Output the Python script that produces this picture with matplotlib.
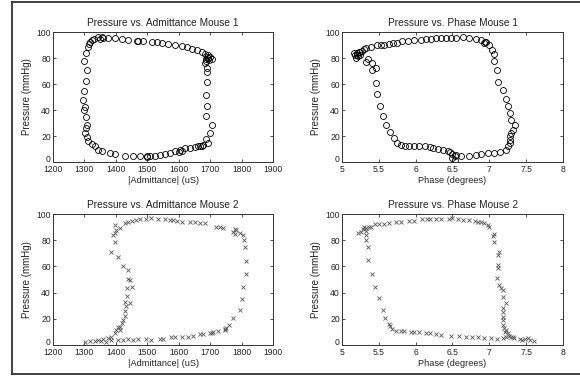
import matplotlib
matplotlib.use('Agg')
import matplotlib.pyplot as plt
from matplotlib.lines import Line2D
from matplotlib.transforms import ScaledTranslation

plt.rcParams['font.family'] = ['Liberation Sans', 'DejaVu Sans']

# Mouse 1: |Admittance| (uS) vs pressure (mmHg)
adm1_x = [1300, 1304, 1312, 1318, 1323, 1331, 1344, 1355, 1376, 1397, 1418, 1440,
          1466, 1487, 1514, 1546, 1567, 1588, 1609, 1625, 1641, 1657, 1673, 1684,
          1694, 1699, 1705, 1697, 1690, 1688, 1684, 1689, 1691, 1689, 1686, 1689,
          1687, 1699, 1707, 1694, 1686, 1678, 1668, 1652, 1636, 1620, 1604, 1588,
          1572, 1556, 1540, 1524, 1509, 1498, 1500, 1477, 1455, 1429, 1397, 1381,
          1355, 1344, 1334, 1323, 1312, 1307, 1302, 1305, 1309, 1305, 1299, 1302,
          1297, 1299, 1304, 1307, 1316, 1350, 1360, 1470, 1530, 1600, 1610, 1662,
          1675, 1688, 1692]
adm1_y = [77.6, 83.7, 88.8, 92.0, 93.5, 94.9, 95.9, 96.2, 95.4, 95.2, 94.4, 93.6,
          93.4, 92.9, 92.3, 91.8, 91.0, 89.8, 89.3, 88.5, 87.2, 86.0, 84.7, 83.4,
          82.0, 80.4, 79.6, 78.8, 81.0, 77.5, 75.8, 72.0, 69.4, 61.7, 51.5, 43.1,
          35.5, 22.2, 28.6, 14.5, 17.6, 12.8, 12.0, 11.5, 10.7, 10.7, 9.4, 8.2,
          6.9, 6.4, 5.6, 4.8, 4.3, 3.8, 5.0, 4.3, 4.3, 4.8, 6.4, 6.9,
          8.2, 9.4, 12.0, 14.0, 15.8, 19.1, 22.2, 26.0, 28.6, 35.0, 40.0, 42.6,
          47.7, 55.0, 62.0, 70.7, 90.5, 95.0, 95.5, 93.0, 92.0, 7.5, 8.5, 12.0,
          12.5, 79.0, 80.0]

# Mouse 1: phase (degrees) vs pressure (mmHg)
ph1_x = [5.16, 5.18, 5.19, 5.21, 5.23, 5.25, 5.27, 5.30, 5.35, 5.32, 5.41, 5.41,
         5.46, 5.46, 5.47, 5.51, 5.56, 5.60, 5.65, 5.71, 5.75, 5.80, 5.85, 5.91,
         5.98, 6.05, 6.12, 6.19, 6.23, 6.30, 6.37, 6.44, 6.47, 6.50, 6.53, 6.50,
         6.54, 6.55, 6.62, 6.72, 6.82, 6.89, 6.98, 7.07, 7.14, 7.23, 7.25, 7.28,
         7.28, 7.28, 7.30, 7.32, 7.35, 7.30, 7.28, 7.25, 7.23, 7.19, 7.12, 7.10,
         7.06, 7.06, 7.03, 7.00, 6.94, 6.89, 6.82, 6.73, 6.64, 6.55, 6.48, 6.41,
         6.35, 6.28, 6.21, 6.14, 6.07, 5.98, 5.89, 5.82, 5.75, 5.69, 5.64, 5.57,
         5.53, 5.47, 5.39, 5.33, 5.22, 5.20, 5.24, 6.95, 6.93]
ph1_y = [84.0, 82.0, 80.0, 83.5, 85.0, 82.6, 85.5, 87.2, 79.6, 77.0, 75.8, 70.7,
         72.0, 61.0, 52.3, 43.1, 35.5, 28.6, 22.7, 18.4, 15.0, 13.3, 12.5, 12.5,
         12.5, 12.0, 12.0, 11.5, 10.7, 10.0, 9.4, 8.2, 7.4, 6.4, 4.3, 3.1,
         1.8, 5.6, 4.3, 4.8, 5.6, 6.4, 6.9, 6.9, 7.6, 9.4, 12.0, 14.5,
         17.0, 20.0, 22.0, 25.0, 28.5, 32.0, 37.5, 43.0, 48.5, 55.4, 61.7, 70.7,
         77.6, 83.4, 86.5, 89.8, 92.3, 93.6, 94.9, 95.7, 96.2, 95.7, 95.7, 95.7,
         95.4, 95.4, 94.9, 94.9, 94.1, 93.6, 92.9, 92.9, 91.8, 91.8, 91.0, 90.3,
         89.8, 89.8, 88.5, 88.0, 81.5, 82.5, 84.5, 92.0, 91.5]

# Mouse 2: |Admittance| (uS) vs pressure (mmHg)
adm2_x = [1301, 1317, 1333, 1343, 1354, 1370, 1386, 1407, 1423, 1439, 1455, 1471,
          1497, 1513, 1540, 1550, 1577, 1588, 1609, 1630, 1646, 1667, 1678, 1699,
          1709, 1725, 1746, 1752, 1760, 1773, 1794, 1800, 1803, 1813, 1813, 1810,
          1808, 1805, 1794, 1783, 1778, 1773, 1742, 1732, 1720, 1684, 1667, 1651,
          1635, 1609, 1593, 1582, 1571, 1555, 1534, 1513, 1497, 1476, 1465, 1450,
          1439, 1428, 1412, 1401, 1396, 1391, 1396, 1396, 1386, 1407, 1423, 1439,
          1439, 1445, 1450, 1437, 1445, 1434, 1430, 1432, 1428, 1428, 1423, 1418,
          1414, 1412, 1407, 1399, 1396, 1386, 1375, 1359, 1705, 1748, 1778]
adm2_y = [2.5, 3.0, 3.3, 3.8, 3.3, 2.5, 3.8, 3.8, 3.8, 4.3, 3.8, 4.6,
          4.6, 3.8, 4.6, 4.6, 5.9, 5.9, 6.4, 6.4, 7.1, 8.4, 8.4, 8.9,
          10.2, 10.7, 11.5, 12.7, 15.3, 20.4, 26.7, 35.0, 44.0, 54.0, 64.4, 74.5,
          80.0, 84.0, 85.5, 87.5, 88.5, 86.0, 89.0, 89.8, 90.0, 92.9, 92.9, 93.6,
          94.0, 94.1, 95.0, 95.4, 95.4, 96.0, 96.0, 96.7, 96.2, 96.2, 95.4, 95.0,
          94.0, 92.9, 89.0, 87.8, 85.7, 84.0, 91.6, 78.9, 70.7, 67.4, 60.0, 57.5,
          50.6, 49.4, 44.3, 43.3, 32.3, 37.4, 33.0, 29.5, 26.0, 22.0, 19.0, 16.5,
          14.0, 11.5, 14.0, 11.5, 8.9, 6.4, 5.1, 4.3, 9.5, 12.5, 84.5]

# Mouse 2: phase (degrees) vs pressure (mmHg)
ph2_x = [5.22, 5.26, 5.28, 5.30, 5.32, 5.32, 5.32, 5.32, 5.36, 5.35, 5.35, 5.41,
         5.45, 5.50, 5.55, 5.59, 5.64, 5.65, 5.68, 5.73, 5.80, 5.84, 5.93, 5.98,
         6.05, 6.14, 6.20, 6.27, 6.34, 6.48, 6.59, 6.68, 6.77, 6.84, 6.93, 7.02,
         7.11, 7.19, 7.23, 7.27, 7.32, 7.34, 7.41, 7.48, 7.55, 7.61, 7.52, 7.25,
         7.22, 7.18, 7.18, 7.18, 7.18, 7.18, 7.23, 7.18, 7.18, 7.16, 7.13, 7.10,
         7.12, 7.12, 7.12, 7.13, 7.06, 7.05, 7.06, 7.00, 6.98, 6.93, 6.89, 6.84,
         6.80, 6.73, 6.64, 6.57, 6.50, 6.45, 6.34, 6.27, 6.20, 6.16, 6.09, 5.98,
         5.91, 5.80, 5.73, 5.64, 5.57, 5.50, 5.45, 5.39, 7.20, 7.21, 7.29, 7.44]
ph2_y = [85.7, 86.5, 88.3, 90.3, 89.0, 87.0, 84.0, 80.0, 90.3, 74.5, 64.9, 54.2,
         44.5, 35.6, 26.7, 20.4, 16.0, 14.2, 12.0, 11.0, 10.7, 10.7, 10.2, 10.2,
         9.7, 8.9, 8.9, 8.4, 7.6, 6.9, 6.9, 5.9, 5.9, 5.9, 5.1, 5.1,
         4.3, 5.1, 6.4, 7.1, 6.4, 5.1, 4.6, 4.6, 3.8, 3.3, 5.1, 8.9,
         11.5, 15.3, 19.0, 21.6, 25.5, 28.0, 31.8, 36.9, 42.0, 43.3, 45.8, 50.9,
         58.5, 61.0, 68.7, 71.2, 79.0, 83.2, 85.0, 90.3, 91.6, 92.9, 93.6, 94.1,
         94.6, 95.4, 95.4, 95.9, 96.7, 96.2, 96.2, 96.2, 95.9, 95.9, 95.9, 94.9,
         94.6, 94.1, 93.9, 92.9, 92.4, 92.1, 92.1, 89.8, 13.0, 10.0, 6.0, 4.0]

W, H = 580, 381
fig = plt.figure(figsize=(W / 100, H / 100), dpi=100)

tc = '#222222'


def make_ax(left, top, width, height):
    ax = fig.add_axes([left / W, 1 - (top + height) / H, width / W, height / H])
    ax.set_ylim(0, 100)
    ax.set_yticks([0, 20, 40, 60, 80, 100])
    ax.tick_params(direction='in', length=2.5, width=0.6, top=True, right=True,
                   labelsize=6.2, colors='#333333', labelcolor=tc)
    ax.tick_params(axis='x', pad=2.2)
    ax.tick_params(axis='y', pad=1.5)
    # nudge the "0" label up a little so it clears the first x label
    zero = ax.yaxis.get_major_ticks()[0].label1
    zero.set_transform(zero.get_transform() +
                       ScaledTranslation(0, 2.5 / 72, fig.dpi_scale_trans))
    for sp in ax.spines.values():
        sp.set_linewidth(0.7)
        sp.set_color('#333333')
    ax.set_ylabel('Pressure (mmHg)', fontsize=7, color=tc, labelpad=3)
    return ax


ax1 = make_ax(53, 32, 220, 130)
ax1.plot(adm1_x, adm1_y, 'o', mfc='none', mec='black', ms=4.3, mew=0.6)
ax1.set_xlim(1200, 1900)
ax1.set_xticks(range(1200, 1901, 100))
ax1.set_title('Pressure vs. Admittance Mouse 1', fontsize=7.3, color=tc, pad=4)
ax1.set_xlabel('|Admittance| (uS)', fontsize=6.6, color=tc, labelpad=1.5)

ax2 = make_ax(342, 32, 221, 130)
ax2.plot(ph1_x, ph1_y, 'o', mfc='none', mec='black', ms=4.3, mew=0.6)
ax2.set_xlim(5, 8)
ax2.set_xticks([5, 5.5, 6, 6.5, 7, 7.5, 8])
ax2.set_xticklabels(['5', '5.5', '6', '6.5', '7', '7.5', '8'])
ax2.set_title('Pressure vs. Phase Mouse 1', fontsize=7.3, color=tc, pad=4)
ax2.set_xlabel('Phase (degrees)', fontsize=6.6, color=tc, labelpad=1.5)

ax3 = make_ax(53, 214, 220, 131)
ax3.plot(adm2_x, adm2_y, 'x', color='#555555', ms=2.6, mew=0.6)
ax3.set_xlim(1200, 1900)
ax3.set_xticks(range(1200, 1901, 100))
ax3.set_title('Pressure vs. Admittance Mouse 2', fontsize=7.3, color=tc, pad=4)
ax3.set_xlabel('|Admittance| (uS)', fontsize=6.6, color=tc, labelpad=1.5)

ax4 = make_ax(342, 214, 221, 131)
ax4.plot(ph2_x, ph2_y, 'x', color='#555555', ms=2.6, mew=0.6)
ax4.set_xlim(5, 8)
ax4.set_xticks([5, 5.5, 6, 6.5, 7, 7.5, 8])
ax4.set_xticklabels(['5', '5.5', '6', '6.5', '7', '7.5', '8'])
ax4.set_title('Pressure vs. Phase Mouse 2', fontsize=7.3, color=tc, pad=4)
ax4.set_xlabel('Phase (degrees)', fontsize=6.6, color=tc, labelpad=1.5)

# outer frame (left, top and bottom edges)
fx0 = 11.5 / W
fy_top = 1 - 1.5 / H
fy_bot = 1 - 374 / H
fig.add_artist(Line2D([fx0, 1.0], [fy_top, fy_top], color='#333333', lw=1.3))
fig.add_artist(Line2D([fx0, 1.0], [fy_bot, fy_bot], color='#333333', lw=1.3))
fig.add_artist(Line2D([fx0, fx0], [fy_bot, fy_top], color='#333333', lw=1.3))

fig.savefig('out.png', dpi=100)
